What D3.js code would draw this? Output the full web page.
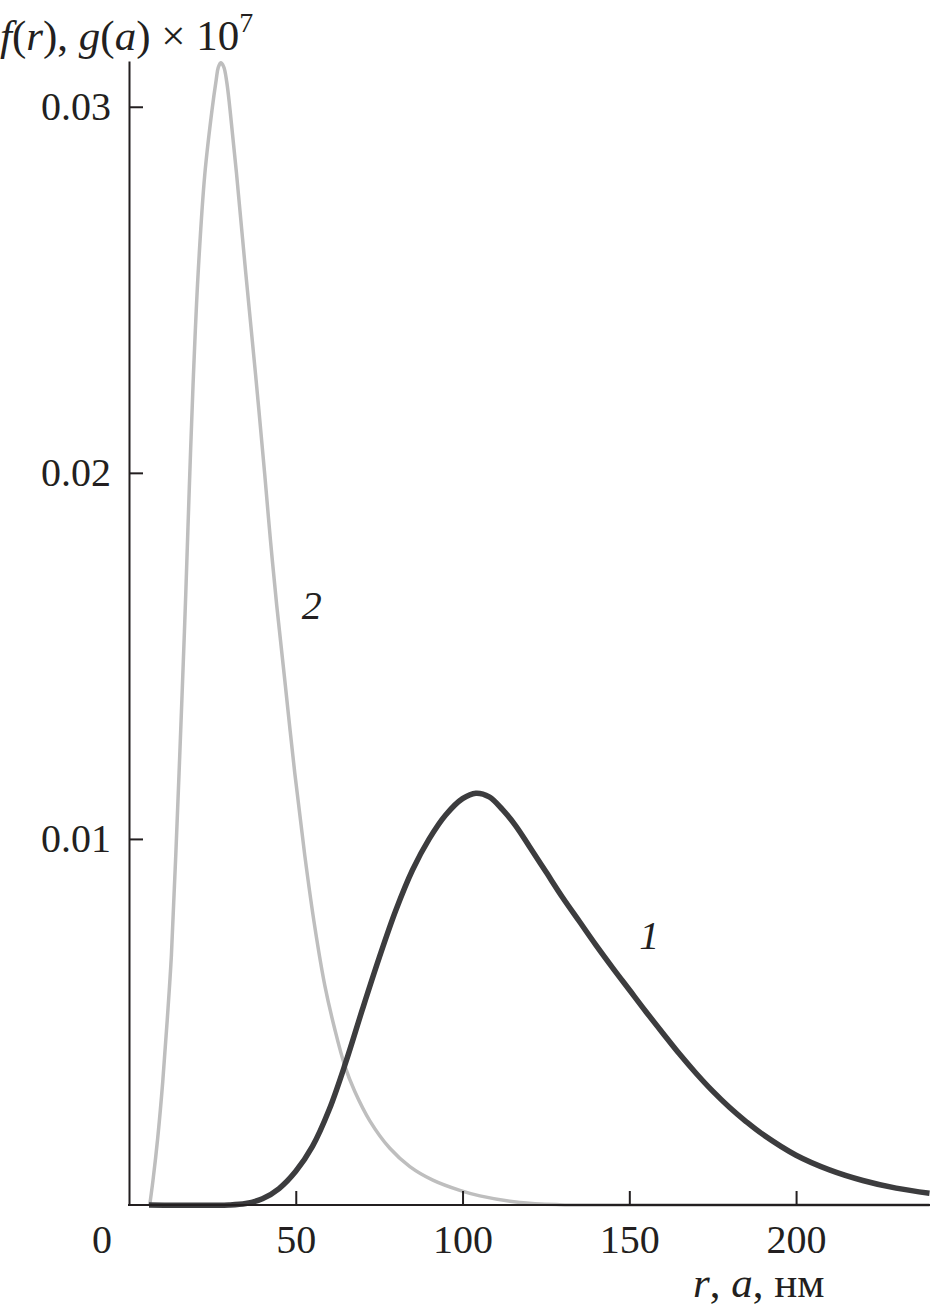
<!DOCTYPE html>
<html>
<head>
<meta charset="utf-8">
<script src="https://cdn.jsdelivr.net/npm/d3@7"></script>
<style>
  html, body { margin: 0; padding: 0; background: #fff; }
  svg { display: block; }
  text { font-family: "Liberation Serif", "DejaVu Serif", serif; fill: #231f20; }
</style>
</head>
<body>
<div id="chart"></div>
<script>
// curve 1: f(r), dark thick line
const r1 = [6, 30, 35, 40, 45, 50, 55, 60, 65, 70, 75, 80, 85, 90, 95, 100, 104, 108, 112, 116, 120, 125, 130, 135, 140, 145, 150, 155, 160, 165, 170, 175, 180, 185, 190, 200, 210, 220, 230, 240];
const f1 = [0, 0, 0.00004, 0.00017, 0.00045, 0.00092, 0.0016, 0.0026, 0.0039, 0.00535, 0.00675, 0.00805, 0.00915, 0.0100, 0.01066, 0.0111, 0.01125, 0.01115, 0.0108, 0.01035, 0.0098, 0.0091, 0.0084, 0.00775, 0.0071, 0.00648, 0.00588, 0.00528, 0.0047, 0.00413, 0.0036, 0.00311, 0.00267, 0.00228, 0.00193, 0.00136, 0.00096, 0.00067, 0.00046, 0.00032];

// curve 2: g(a), light grey line
const r2 = [6.21, 7.2, 8.61, 10.11, 11.46, 12.72, 14.22, 15.9, 17.01, 18.06, 19.2, 20.7, 22.71, 24.9, 26.15, 26.75, 27.5, 28.4, 29.3, 30.29, 32.21, 35.0, 37.9, 40.7, 42.4, 44.3, 46.7, 49.7, 52.7, 55.7, 58.7, 61.7, 64.7, 67.7, 72.2, 78.2, 84.2, 91.1, 99.2, 105.2, 117.2, 129.2, 140, 240];
const g2 = [0, 0.00068, 0.00183, 0.00336, 0.00505, 0.00683, 0.0100, 0.01391, 0.01667, 0.01954, 0.0224, 0.02541, 0.02814, 0.02992, 0.03074, 0.03107, 0.0312, 0.03109, 0.03068, 0.02992, 0.0282, 0.02546, 0.02273, 0.01995, 0.01817, 0.01637, 0.01434, 0.0118, 0.00955, 0.0076, 0.0060, 0.0048, 0.0038, 0.0031, 0.0023, 0.00155, 0.00105, 0.00068, 0.0004, 0.00025, 0.00007, 0.00001, 0, 0];

const xTicks = [50, 100, 150, 200];
const yTicks = [0.01, 0.02, 0.03];

const width = 930, height = 1311;
const margin = {top: 61, right: 0, bottom: 106, left: 129};

const svg = d3.select("#chart").append("svg")
    .attr("width", width)
    .attr("height", height);

const x = d3.scaleLinear().domain([0, 240]).range([margin.left, 929.5]);
const y = d3.scaleLinear().domain([0, 0.03125]).range([height - margin.bottom, margin.top]);

// curves
const line = d3.line()
    .x(d => x(d[0]))
    .y(d => Math.min(y(d[1]), y(0)))
    .curve(d3.curveCatmullRom.alpha(0.5));

svg.append("path")
    .datum(r2.map((r, i) => [r, g2[i]]))
    .attr("d", line)
    .attr("fill", "none")
    .attr("stroke", "#bebebe")
    .attr("stroke-width", 3.5);

svg.append("path")
    .datum(r1.map((r, i) => [r, f1[i]]))
    .attr("d", line)
    .attr("fill", "none")
    .attr("stroke", "#3c3c3e")
    .attr("stroke-width", 5.5);

// axes
const xAxis = svg.append("g")
    .attr("transform", "translate(0," + y(0) + ")")
    .call(d3.axisBottom(x).tickValues(xTicks).tickSize(-14).tickSizeOuter(0).tickPadding(20));

const yAxis = svg.append("g")
    .attr("transform", "translate(" + x(0) + ",0)")
    .call(d3.axisLeft(y).tickValues(yTicks).tickFormat(d3.format(".2f")).tickSize(-14).tickSizeOuter(0).tickPadding(18));

[xAxis, yAxis].forEach(g => {
  g.select(".domain").attr("stroke", "#231f20").attr("stroke-width", 2);
  g.selectAll(".tick line").attr("stroke", "#231f20").attr("stroke-width", 2);
  g.selectAll(".tick text")
    .attr("font-family", "Liberation Serif")
    .attr("font-size", 40)
    .attr("fill", "#231f20");
});
xAxis.select(".domain").attr("d", "M" + (x(0) - 1) + ",0H" + width);

// origin label
svg.append("text")
    .attr("x", x(0) - 27)
    .attr("y", y(0) + 48)
    .attr("text-anchor", "middle")
    .attr("font-size", 40)
    .text("0");

// y axis title
const yt = svg.append("text")
    .attr("x", 0)
    .attr("y", 50)
    .attr("font-size", 43);
yt.append("tspan").attr("font-style", "italic").text("f");
yt.append("tspan").text("(");
yt.append("tspan").attr("font-style", "italic").text("r");
yt.append("tspan").text("), ");
yt.append("tspan").attr("font-style", "italic").text("g");
yt.append("tspan").text("(");
yt.append("tspan").attr("font-style", "italic").text("a");
yt.append("tspan").text(") × 10");
yt.append("tspan").attr("font-size", 28).attr("dy", -18).text("7");

// x axis title
const xt = svg.append("text")
    .attr("x", 693)
    .attr("y", 1297)
    .attr("font-size", 43);
xt.append("tspan").attr("font-style", "italic").text("r");
xt.append("tspan").text(", ");
xt.append("tspan").attr("font-style", "italic").text("a");
xt.append("tspan").text(", нм");

// curve labels
svg.append("text")
    .attr("x", x(51.8))
    .attr("y", y(0.0160))
    .attr("font-size", 40)
    .attr("font-style", "italic")
    .text("2");

svg.append("text")
    .attr("x", x(153))
    .attr("y", y(0.0070))
    .attr("font-size", 40)
    .attr("font-style", "italic")
    .text("1");
</script>
</body>
</html>
